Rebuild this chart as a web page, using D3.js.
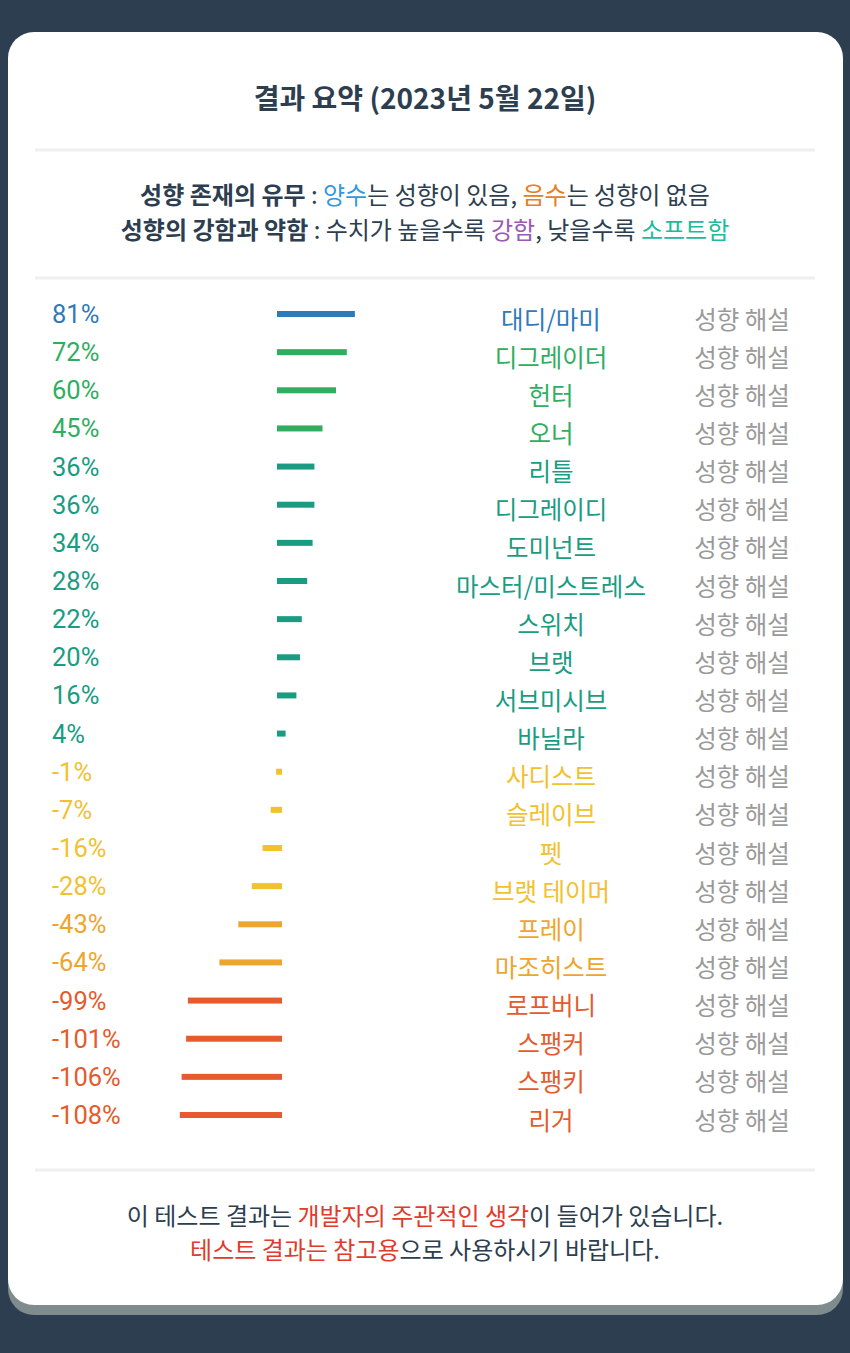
<!DOCTYPE html>
<html><head><meta charset="utf-8">
<script src="https://cdn.jsdelivr.net/npm/d3@7"></script>
<style>html,body{margin:0;padding:0;background:#2c3e50;}svg{display:block;}</style>
</head><body>
<svg id="chart" width="850" height="1353"></svg>
<script>
const names = ["대디/마미","디그레이더","헌터","오너","리틀","디그레이디","도미넌트","마스터/미스트레스","스위치","브랫","서브미시브","바닐라","사디스트","슬레이브","펫","브랫 테이머","프레이","마조히스트","로프버니","스팽커","스팽키","리거"];
const values = [81,72,60,45,36,36,34,28,22,20,16,4,-1,-7,-16,-28,-43,-64,-99,-101,-106,-108];
const linkLabel = "성향 해설";
const title = "결과 요약 (2023년 5월 22일)";
const legend1 = [["성향 존재의 유무","b"],[" : ",""],["양수","blue"],["는 성향이 있음, ",""],["음수","orange"],["는 성향이 없음",""]];
const legend2 = [["성향의 강함과 약함","b"],[" : 수치가 높을수록 ",""],["강함","purple"],[", 낮을수록 ",""],["소프트함","teal"]];
const footer1 = [["이 테스트 결과는 ",""],["개발자의 주관적인 생각","red"],["이 들어가 있습니다.",""]];
const footer2 = [["테스트 결과는 참고용","red"],["으로 사용하시기 바랍니다.",""]];

const KR = "'Noto Sans CJK KR', 'Noto Sans', sans-serif";
const dark = "#2c3e50";
const accent = {blue:"#3498db", orange:"#e67e22", purple:"#9b59b6", teal:"#1abc9c", red:"#e03b2b"};

const svg = d3.select("#chart");
svg.append("rect").attr("width",850).attr("height",1353).attr("fill","#2c3e50");

function cardPath(x,y,w,h,r){
  const p = d3.path();
  p.moveTo(x+r,y); p.lineTo(x+w-r,y); p.arcTo(x+w,y,x+w,y+r,r);
  p.lineTo(x+w,y+h-r); p.arcTo(x+w,y+h,x+w-r,y+h,r);
  p.lineTo(x+r,y+h); p.arcTo(x,y+h,x,y+h-r,r);
  p.lineTo(x,y+r); p.arcTo(x,y,x+r,y,r); p.closePath();
  return p.toString();
}
svg.append("path").attr("d",cardPath(8,42,835,1273,26)).attr("fill","#7f8c8d");
svg.append("path").attr("d",cardPath(8,32,835,1273,26)).attr("fill","#ffffff");

svg.append("text").attr("x",425).attr("y",97).attr("text-anchor","middle")
  .attr("dominant-baseline","central")
  .attr("font-family",KR).attr("font-weight",700).attr("font-size",28).attr("fill",dark)
  .text(title);

[150,278,1170].forEach(y=>{
  svg.append("rect").attr("x",35).attr("y",y-1.5).attr("width",780).attr("height",3).attr("fill","#efefef");
});

function richLine(parts,y,size){
  const t = svg.append("text").attr("x",425).attr("y",y).attr("text-anchor","middle")
    .attr("dominant-baseline","central").attr("font-family",KR).attr("font-size",size).attr("fill",dark)
    .attr("xml:space","preserve");
  parts.forEach(([s,k])=>{
    const ts = t.append("tspan").text(s);
    if(k==="b") ts.attr("font-weight",700);
    else if(k) ts.attr("fill",accent[k]);
  });
}
richLine(legend1,193,24);
richLine(legend2,228,24);
richLine(footer1,1214,24);
richLine(footer2,1248,24);

const y = d3.scalePoint().domain(names).range([314,1115]);
const len = d3.scaleLinear().domain([0,100]).range([5,95]);
const color = d3.scaleThreshold().domain([-70,-30,0,40,80])
  .range(["#e55b2b","#eea52e","#f2c12e","#1a9c82","#2fae5f","#2f7ab9"]);

const rows = svg.append("g").selectAll("g").data(names.map((n,i)=>({name:n,value:values[i]})))
  .join("g");

rows.append("text").attr("x",52).attr("y",d=>y(d.name)).attr("dominant-baseline","central")
  .attr("font-family","Roboto, sans-serif").attr("font-size",25.5).attr("fill",d=>color(d.value))
  .text(d=>d.value+"%");

rows.append("rect")
  .attr("x",d=>d.value>=0 ? 277 : 282-len(Math.abs(d.value)))
  .attr("y",d=>y(d.name)-3).attr("height",6)
  .attr("width",d=>len(Math.abs(d.value)))
  .attr("fill",d=>color(d.value));

rows.append("text").attr("x",551).attr("y",d=>y(d.name)+4).attr("text-anchor","middle")
  .attr("dominant-baseline","central").attr("font-family",KR).attr("font-size",24.5)
  .attr("fill",d=>color(d.value)).text(d=>d.name);

rows.append("text").attr("x",742).attr("y",d=>y(d.name)+4).attr("text-anchor","middle")
  .attr("dominant-baseline","central").attr("font-family",KR).attr("font-size",24.5)
  .attr("fill","#9a9a9a").text(linkLabel);
</script>
</body></html>
